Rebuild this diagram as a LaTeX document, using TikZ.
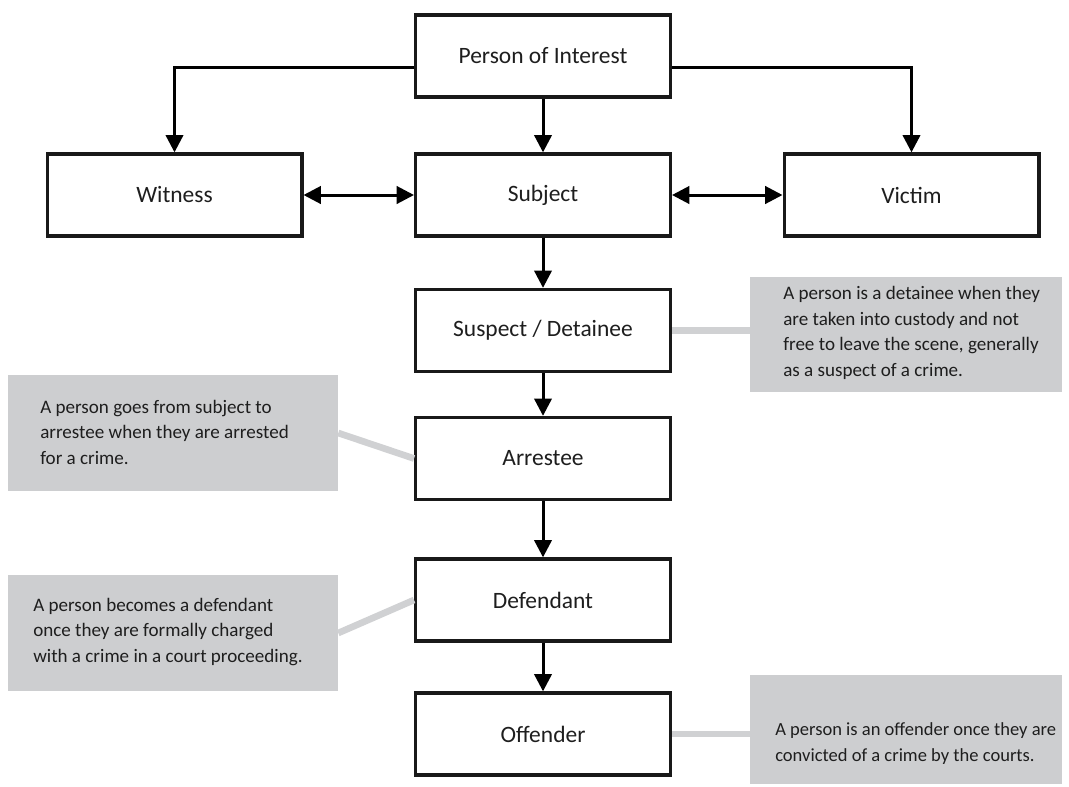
\documentclass[tikz,border=0pt]{standalone}
\usepackage{fontspec}
\setmainfont{Carlito}
\usepackage{tikz}
\usetikzlibrary{arrows.meta}
\usetikzlibrary{positioning}

\definecolor{notegray}{RGB}{205,206,208}
\definecolor{linegray}{RGB}{208,209,211}
\definecolor{inkgray}{RGB}{30,30,30}
\newcommand\boxfont{\fontsize{17.6pt}{21pt}\selectfont}
\newcommand\notefont{\fontsize{14.3pt}{19.1pt}\selectfont}

\begin{document}
\begin{tikzpicture}[x=0.75pt,y=-0.75pt,
  role/.style={draw=black!90,line width=2.5pt,fill=white,text=inkgray,minimum width=191pt,minimum height=61.5pt,font=\boxfont},
  note/.style={fill=notegray,inner sep=0pt},
  notetext/.style={text=inkgray,font=\notefont,align=left,anchor=west,inner sep=0pt},
  flow/.style={line width=2.25pt,-{Triangle[length=13pt,width=13pt]}},
  both/.style={line width=2.25pt,{Triangle[length=13pt,width=13pt]}-{Triangle[length=13pt,width=13pt]}},
  tie/.style={linegray,line width=5pt}]
  \useasboundingbox (0,0) rectangle (1069,786);

  \node[note,minimum width=234pt,minimum height=86.25pt] (n1) at (906,334.5) {};
  \node[note,minimum width=247.5pt,minimum height=87pt] (n2) at (173,433) {};
  \node[note,minimum width=247.5pt,minimum height=87pt] (n3) at (173,633) {};
  \node[note,minimum width=234pt,minimum height=81.75pt] (n4) at (906,729.5) {};

  \node[notetext] (t1) at (783,333) {A person is a detainee when they\\are taken into custody and not\\free to leave the scene, generally\\as a suspect of a crime.};
  \node[notetext] (t2) at (40,432) {A person goes from subject to\\arrestee when they are arrested\\for a crime.};
  \node[notetext] (t3) at (33,632) {A person becomes a defendant\\once they are formally charged\\with a crime in a court proceeding.};
  \node[notetext,font=\fontsize{13.9pt}{19.1pt}\selectfont] (t4) at (775,743.5) {A person is an offender once they are\\convicted of a crime by the courts.};

  \node[role] (poi) at (543,56) {Person of Interest};
  \node[role] (wit) at (174.5,195) {Witness};
  \node[role] (sub) at (543,195) {Subject};
  \node[role] (vic) at (911.5,195) {Victim};
  \node[role] (sus) at (543,330.5) {Suspect / Detainee};
  \node[role] (arr) at (543,458.5) {Arrestee};
  \node[role] (def) at (543,600) {Defendant};
  \node[role] (off) at (543,734) {Offender};

  \draw[flow] (poi) -- (sub);
  \draw[flow] ([yshift=-8.25pt]poi.west) -| (wit.north);
  \draw[flow] ([yshift=-8.25pt]poi.east) -| (vic.north);
  \draw[both] (wit) -- (sub);
  \draw[both] (sub) -- (vic);
  \draw[flow] (sub) -- (sus);
  \draw[flow] (sus) -- (arr);
  \draw[flow] (arr) -- (def);
  \draw[flow] (def) -- (off);

  \draw[tie] (sus.east) -- (n1.west |- sus.east);
  \draw[tie] (n2.east) -- (arr.west);
  \draw[tie] (n3.east) -- (def.west);
  \draw[tie] (off.east) -- (n4.west |- off.east);
\end{tikzpicture}
\end{document}
